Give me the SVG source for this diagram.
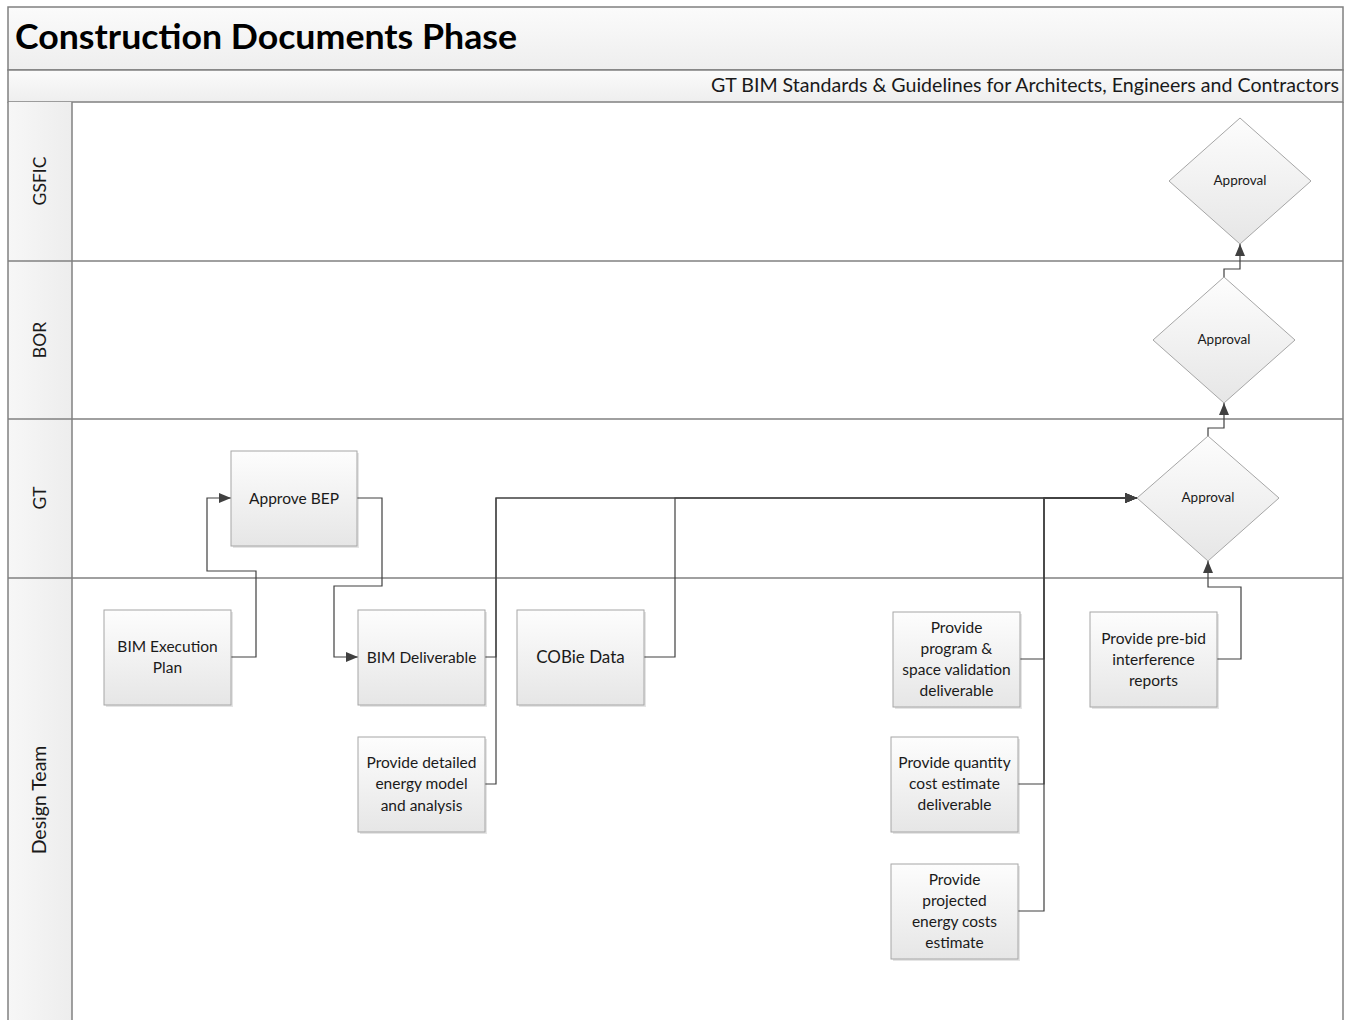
<svg xmlns="http://www.w3.org/2000/svg" width="1345" height="1020" viewBox="0 0 1345 1020">
  <defs>
    <linearGradient id="bandFill" x1="0" y1="0" x2="0" y2="1">
      <stop offset="0" stop-color="#fbfbfb"/>
      <stop offset="1" stop-color="#eeeeee"/>
    </linearGradient>
    <linearGradient id="laneHead" x1="0" y1="0" x2="1" y2="0">
      <stop offset="0" stop-color="#f7f7f7"/>
      <stop offset="1" stop-color="#ededed"/>
    </linearGradient>
    <linearGradient id="shapeFill" x1="0" y1="0" x2="0" y2="1">
      <stop offset="0" stop-color="#fdfdfd"/>
      <stop offset="1" stop-color="#e6e6e6"/>
    </linearGradient>
    <marker id="arrow" markerUnits="userSpaceOnUse" markerWidth="13" markerHeight="10" refX="12" refY="5" orient="auto">
      <path d="M0,0 L12,5 L0,10 Z" fill="#404040"/>
    </marker>
    <style>
      .lane { stroke: #808080; stroke-width: 1.5; }
      .box { fill: url(#shapeFill); stroke: #a6a6a6; stroke-width: 1; }
      .shadow { fill: #000; opacity: 0.1; }
      .conn { fill: none; stroke: #404040; stroke-width: 1.2; }
      .txt { font-family: Lato, "Liberation Sans", sans-serif; fill: #1a1a1a; text-anchor: middle; }
      .node { font-size: 15.5px; }
      .dtxt { font-size: 13.5px; }
      .lbl { font-size: 17.5px; }
    </style>
  </defs>

  <rect x="0" y="0" width="1345" height="1020" fill="#ffffff"/>

  <!-- title and subtitle bands -->
  <rect x="8" y="7" width="1335" height="63" fill="url(#bandFill)" stroke="#808080" stroke-width="1.5"/>
  <text x="15" y="49" font-family="Lato, 'Liberation Sans', sans-serif" font-size="34" font-weight="bold" fill="#000" textLength="502" lengthAdjust="spacingAndGlyphs">Construction Documents Phase</text>
  <rect x="8" y="70" width="1335" height="32" fill="url(#bandFill)" stroke="#808080" stroke-width="1.5"/>
  <text x="1339" y="92" font-family="Lato, 'Liberation Sans', sans-serif" font-size="19" fill="#1a1a1a" text-anchor="end" textLength="628" lengthAdjust="spacingAndGlyphs">GT BIM Standards &amp; Guidelines for Architects, Engineers and Contractors</text>

  <!-- swimlanes -->
  <g id="lanes">
    <rect x="8" y="102" width="64" height="918" fill="url(#laneHead)"/>
    <line class="lane" x1="8" y1="102" x2="8" y2="1020"/>
    <line class="lane" x1="1343" y1="102" x2="1343" y2="1020"/>
    <line class="lane" x1="72" y1="102" x2="72" y2="1020"/>
    <line class="lane" x1="8" y1="261" x2="1343" y2="261"/>
    <line class="lane" x1="8" y1="419" x2="1343" y2="419"/>
    <line class="lane" x1="8" y1="578" x2="1343" y2="578"/>
    <text class="txt lbl" transform="translate(46,181) rotate(-90)">GSFIC</text>
    <text class="txt lbl" transform="translate(46,340) rotate(-90)">BOR</text>
    <text class="txt lbl" transform="translate(46,498) rotate(-90)">GT</text>
    <text class="txt" font-size="19.5" transform="translate(46,800) rotate(-90)">Design Team</text>
  </g>

  <!-- connectors -->
  <g id="connectors">
    <path class="conn" d="M231,657 H256 V571 H207 V498 H231" marker-end="url(#arrow)"/>
    <path class="conn" d="M357,498 H382 V586 H334 V657 H358" marker-end="url(#arrow)"/>
    <path class="conn" d="M485,657 H496 V498 H1137" marker-end="url(#arrow)"/>
    <path class="conn" d="M485,784 H496 V498 H1137" marker-end="url(#arrow)"/>
    <path class="conn" d="M643,657 H675 V498 H1137" marker-end="url(#arrow)"/>
    <path class="conn" d="M1020,659 H1044 V498 H1137" marker-end="url(#arrow)"/>
    <path class="conn" d="M1018,784 H1044 V498 H1137" marker-end="url(#arrow)"/>
    <path class="conn" d="M1018,911 H1044 V498 H1137" marker-end="url(#arrow)"/>
    <path class="conn" d="M1217,659 H1241 V587 H1208 V561" marker-end="url(#arrow)"/>
    <path class="conn" d="M1208,436 V428 H1224 V403" marker-end="url(#arrow)"/>
    <path class="conn" d="M1224,277 V269 H1240 V244" marker-end="url(#arrow)"/>
  </g>

  <!-- process nodes -->
  <g id="bim-execution-plan">
    <rect class="shadow" x="106" y="612" width="127" height="95"/>
    <rect class="box" x="104" y="610" width="127" height="95"/>
    <text class="txt node" x="167.5" y="652">BIM Execution</text>
    <text class="txt node" x="167.5" y="673">Plan</text>
  </g>
  <g id="approve-bep">
    <rect class="shadow" x="233" y="453" width="126" height="95"/>
    <rect class="box" x="231" y="451" width="126" height="95"/>
    <text class="txt node" x="294" y="504">Approve BEP</text>
  </g>
  <g id="bim-deliverable">
    <rect class="shadow" x="360" y="612" width="127" height="95"/>
    <rect class="box" x="358" y="610" width="127" height="95"/>
    <text class="txt node" x="421.5" y="663">BIM Deliverable</text>
  </g>
  <g id="energy-model">
    <rect class="shadow" x="360" y="739" width="127" height="95"/>
    <rect class="box" x="358" y="737" width="127" height="95"/>
    <text class="txt node" x="421.5" y="768">Provide detailed</text>
    <text class="txt node" x="421.5" y="789">energy model</text>
    <text class="txt node" x="421.5" y="811">and analysis</text>
  </g>
  <g id="cobie-data">
    <rect class="shadow" x="519" y="612" width="127" height="95"/>
    <rect class="box" x="517" y="610" width="127" height="95"/>
    <text class="txt" x="580.5" y="663" font-size="17">COBie Data</text>
  </g>
  <g id="space-validation">
    <rect class="shadow" x="895" y="614" width="127" height="95"/>
    <rect class="box" x="893" y="612" width="127" height="95"/>
    <text class="txt node" x="956.5" y="633">Provide</text>
    <text class="txt node" x="956.5" y="654">program &amp;</text>
    <text class="txt node" x="956.5" y="675">space validation</text>
    <text class="txt node" x="956.5" y="696">deliverable</text>
  </g>
  <g id="pre-bid-interference">
    <rect class="shadow" x="1092" y="614" width="127" height="95"/>
    <rect class="box" x="1090" y="612" width="127" height="95"/>
    <text class="txt node" x="1153.5" y="644">Provide pre-bid</text>
    <text class="txt node" x="1153.5" y="665">interference</text>
    <text class="txt node" x="1153.5" y="686">reports</text>
  </g>
  <g id="quantity-cost-estimate">
    <rect class="shadow" x="893" y="739" width="127" height="95"/>
    <rect class="box" x="891" y="737" width="127" height="95"/>
    <text class="txt node" x="954.5" y="768">Provide quantity</text>
    <text class="txt node" x="954.5" y="789">cost estimate</text>
    <text class="txt node" x="954.5" y="810">deliverable</text>
  </g>
  <g id="energy-costs-estimate">
    <rect class="shadow" x="893" y="866" width="127" height="95"/>
    <rect class="box" x="891" y="864" width="127" height="95"/>
    <text class="txt node" x="954.5" y="885">Provide</text>
    <text class="txt node" x="954.5" y="906">projected</text>
    <text class="txt node" x="954.5" y="927">energy costs</text>
    <text class="txt node" x="954.5" y="948">estimate</text>
  </g>

  <!-- decision nodes -->
  <g id="approval-gt">
    <polygon class="box" points="1208,436 1279,498 1208,561 1137,498"/>
    <text class="txt dtxt" x="1208" y="502">Approval</text>
  </g>
  <g id="approval-bor">
    <polygon class="box" points="1224,277 1295,340 1224,403 1153,340"/>
    <text class="txt dtxt" x="1224" y="344">Approval</text>
  </g>
  <g id="approval-gsfic">
    <polygon class="box" points="1240,118 1311,181 1240,244 1169,181"/>
    <text class="txt dtxt" x="1240" y="185">Approval</text>
  </g>
</svg>
